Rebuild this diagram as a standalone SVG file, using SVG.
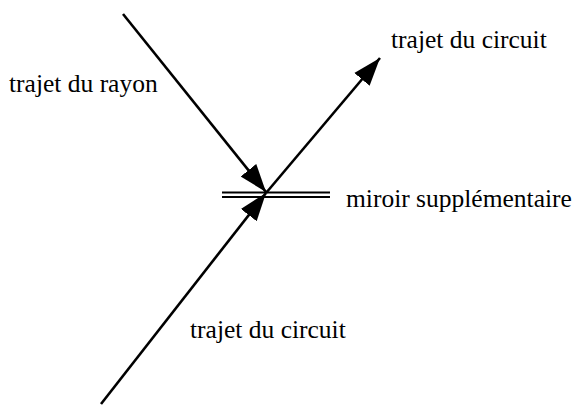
<svg xmlns="http://www.w3.org/2000/svg" width="572" height="405" viewBox="0 0 572 405">
<style>
.ray{stroke:#000;stroke-width:2.6;fill:none}
.mir{stroke:#000;stroke-width:2;fill:none}
.lbl{font-family:'Times New Roman','Liberation Serif','DejaVu Serif',serif;font-size:25.5px;fill:#000}
</style>
<defs>
<marker id="ah" markerUnits="userSpaceOnUse" markerWidth="30" markerHeight="24" viewBox="0 0 30 24" refX="28" refY="12" orient="auto">
<path d="M0,2 L28,12 L0,22 Z" fill="#000"/>
</marker>
</defs>
<rect width="572" height="405" fill="#fff"/>
<g id="connectors">
<line class="ray" x1="123" y1="14" x2="266" y2="192" marker-end="url(#ah)"/>
<line class="ray" x1="101" y1="404" x2="266" y2="193" marker-end="url(#ah)"/>
<line class="ray" x1="266" y1="193" x2="380" y2="58" marker-end="url(#ah)"/>
</g>
<g id="miroir">
<line class="mir" x1="222" y1="192.5" x2="330" y2="192.5"/>
<line class="mir" x1="222" y1="197" x2="330" y2="197"/>
</g>
<g id="label-rayon"><text class="lbl" x="9" y="92">trajet du rayon</text></g>
<g id="label-circuit-haut"><text class="lbl" x="391" y="48">trajet du circuit</text></g>
<g id="label-miroir"><text class="lbl" x="346" y="207">miroir supplémentaire</text></g>
<g id="label-circuit-bas"><text class="lbl" x="190" y="338">trajet du circuit</text></g>
</svg>
